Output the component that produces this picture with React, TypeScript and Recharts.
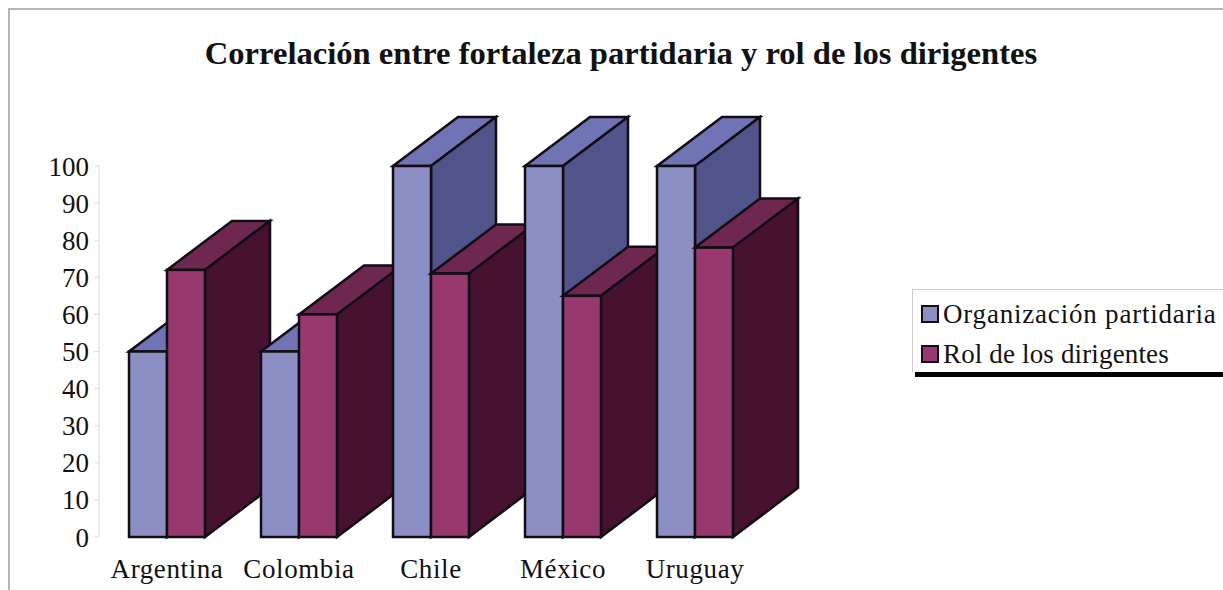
import { Bar, BarChart, XAxis, YAxis } from "recharts"

const categories = ["Argentina", "Colombia", "Chile", "México", "Uruguay"]
const organizacion = [50, 50, 100, 100, 100]
const rol = [72, 60, 71, 65, 78]
const yTicks = [0, 10, 20, 30, 40, 50, 60, 70, 80, 90, 100]
const seriesNames = ["Organización partidaria", "Rol de los dirigentes"]

const FONT = '"Liberation Serif", serif'
const DEPTH_X = 65
const DEPTH_Y = 49
const LEGEND_TRACKING = [0.8, 0.15]

const blue = { front: "#8b8fc4", top: "#7073b4", side: "#51548a" }
const wine = { front: "#97396e", top: "#6e2850", side: "#47122f" }

// each category gets its own pair of series so later columns paint over earlier ones
const rows = categories.map((name, i) => ({
  name,
  [`org_${i}`]: organizacion[i],
  [`rol_${i}`]: rol[i],
}))

type Palette = typeof blue

function Block3D(props: any, colors: Palette) {
  const { x, y, width, height } = props
  if (!height) return null
  const r = x + width
  const b = y + height
  const line = { stroke: "#120c14", strokeWidth: 2.5, strokeLinejoin: "miter" as const }
  return (
    <g>
      <polygon
        points={`${x},${y} ${x + DEPTH_X},${y - DEPTH_Y} ${r + DEPTH_X},${y - DEPTH_Y} ${r},${y}`}
        fill={colors.top}
        {...line}
      />
      <polygon
        points={`${r},${y} ${r + DEPTH_X},${y - DEPTH_Y} ${r + DEPTH_X},${b - DEPTH_Y} ${r},${b}`}
        fill={colors.side}
        {...line}
      />
      <rect x={x} y={y} width={width} height={height} fill={colors.front} {...line} />
    </g>
  )
}

function ChartLegend() {
  const swatches = [blue.front, wine.front]
  return (
    <div
      style={{
        position: "absolute",
        left: 912,
        top: 289,
        width: 311,
        height: 83,
        boxSizing: "border-box",
        borderLeft: "1px solid #ccc",
        borderTop: "1px solid #ccc",
        boxShadow: "3px 5px 0 #000",
        background: "#fff",
        clipPath: "inset(0 0 -6px 0)",
        fontFamily: FONT,
        fontSize: 27,
        color: "#111",
      }}
    >
      {seriesNames.map((name, i) => (
        <div
          key={name}
          style={{
            position: "absolute",
            left: 8,
            top: 9 + i * 40,
            height: 30,
            display: "flex",
            alignItems: "center",
            whiteSpace: "nowrap",
            letterSpacing: LEGEND_TRACKING[i],
          }}
        >
          <span
            style={{
              width: 14,
              height: 14,
              marginRight: 4,
              border: "2px solid #120c14",
              background: swatches[i],
            }}
          />
          {name}
        </div>
      ))}
    </div>
  )
}

export default function App() {
  return (
    <div
      style={{
        position: "absolute",
        left: 0,
        top: 0,
        width: 1223,
        height: 590,
        overflow: "hidden",
        background: "#fff",
      }}
    >
      <div
        style={{
          position: "absolute",
          left: 8,
          top: 8,
          right: 0,
          bottom: 0,
          borderLeft: "2px solid #b5b5b5",
          borderTop: "2px solid #b5b5b5",
        }}
      />
      <div style={{ position: "absolute", left: 0, top: 0 }}>
        <BarChart
          width={1223}
          height={590}
          data={rows}
          margin={{ top: 166, right: 462, bottom: 0, left: 0 }}
          barSize={38}
          barGap={0}
        >
          <text
            x={621}
            y={64}
            textAnchor="middle"
            fontFamily={FONT}
            fontSize={32.6}
            fontWeight={700}
            fill="#111"
          >
            Correlación entre fortaleza partidaria y rol de los dirigentes
          </text>
          <XAxis
            dataKey="name"
            interval={0}
            height={53}
            padding={{ left: 2, right: 0 }}
            axisLine={false}
            tickLine={false}
            tickMargin={16}
            tick={{ fontFamily: FONT, fontSize: 27, fill: "#111", letterSpacing: 0.6 }}
          />
          <YAxis
            width={99}
            domain={[0, 100]}
            ticks={yTicks}
            interval={0}
            axisLine={{ stroke: "#ddd" }}
            tickLine={{ stroke: "#ddd" }}
            tickSize={5}
            tickMargin={5}
            tick={{ fontFamily: FONT, fontSize: 27, fill: "#111" }}
          />
          {categories.flatMap((_, i) => [
            <Bar
              key={`org_${i}`}
              dataKey={`org_${i}`}
              stackId="org"
              isAnimationActive={false}
              shape={(p: any) => Block3D(p, blue)}
            />,
            <Bar
              key={`rol_${i}`}
              dataKey={`rol_${i}`}
              stackId="rol"
              isAnimationActive={false}
              shape={(p: any) => Block3D(p, wine)}
            />,
          ])}
        </BarChart>
      </div>
      <ChartLegend />
    </div>
  )
}
